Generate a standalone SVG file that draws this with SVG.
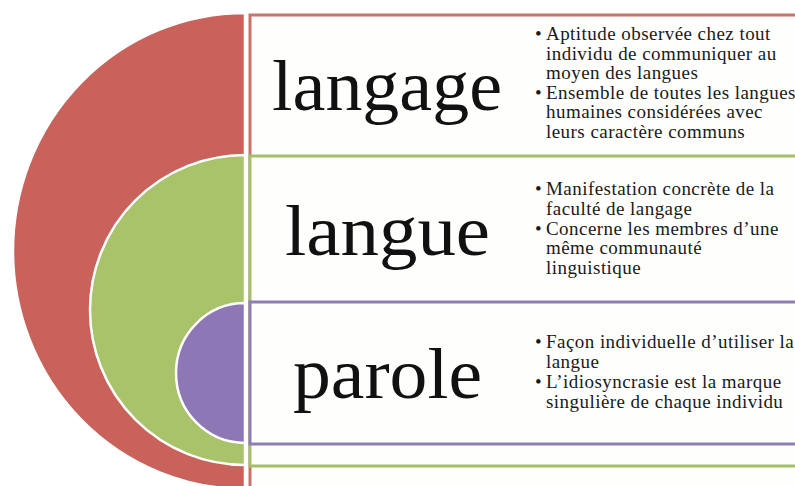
<svg xmlns="http://www.w3.org/2000/svg" width="795" height="486" viewBox="0 0 795 486">
<style>
.big{font-family:"Liberation Serif","Times New Roman",serif;font-size:72px;fill:#111}
.txt{font-family:"Liberation Serif","Times New Roman",serif;font-size:19px;letter-spacing:0.45px;fill:#1a1a1a}
.box{fill:#fefefd;stroke-width:3}
.disc{stroke:#ffffff;stroke-width:2.5}
</style>
<rect width="795" height="486" fill="#ffffff"/>
<g id="node-langage">
<rect class="box" x="250" y="15" width="560" height="490" stroke="#c8726c"/>
<path class="disc" d="M245,13 A232,238 0 0 0 245,489 Z" fill="#c9625a"/>
<text class="big" x="272" y="110" textLength="230" lengthAdjust="spacingAndGlyphs">langage</text>
<text class="txt">
<tspan x="535" y="40">•</tspan><tspan x="546" y="40">Aptitude observée chez tout</tspan>
<tspan x="546" y="59.5">individu de communiquer au</tspan>
<tspan x="546" y="79">moyen des langues</tspan>
<tspan x="535" y="98.5">•</tspan><tspan x="546" y="98.5">Ensemble de toutes les langues</tspan>
<tspan x="546" y="118">humaines considérées avec</tspan>
<tspan x="546" y="137.5">leurs caractère communs</tspan>
</text>
</g>
<g id="node-langue">
<rect class="box" x="250" y="156" width="560" height="310" stroke="#a4bf6c"/>
<path class="disc" d="M245,155 A155,155 0 0 0 245,465 Z" fill="#a8c36a"/>
<text class="big" x="285" y="255" textLength="205" lengthAdjust="spacingAndGlyphs">langue</text>
<text class="txt">
<tspan x="535" y="195">•</tspan><tspan x="546" y="195">Manifestation concrète de la</tspan>
<tspan x="546" y="214.5">faculté de langage</tspan>
<tspan x="535" y="234.5">•</tspan><tspan x="546" y="234.5">Concerne les membres d’une</tspan>
<tspan x="546" y="254">même communauté</tspan>
<tspan x="546" y="273.5">linguistique</tspan>
</text>
</g>
<g id="node-parole">
<rect class="box" x="250" y="302" width="560" height="142" stroke="#8e7eb3"/>
<path class="disc" d="M245,303 A69,70 0 0 0 245,443 Z" fill="#8d78b5"/>
<text class="big" x="293" y="398" textLength="189" lengthAdjust="spacingAndGlyphs">parole</text>
<text class="txt">
<tspan x="535" y="348">•</tspan><tspan x="546" y="348">Façon individuelle d’utiliser la</tspan>
<tspan x="546" y="367.5">langue</tspan>
<tspan x="535" y="388">•</tspan><tspan x="546" y="388">L’idiosyncrasie est la marque</tspan>
<tspan x="546" y="407.5">singulière de chaque individu</tspan>
</text>
</g>
<g id="connectors"></g>
</svg>
